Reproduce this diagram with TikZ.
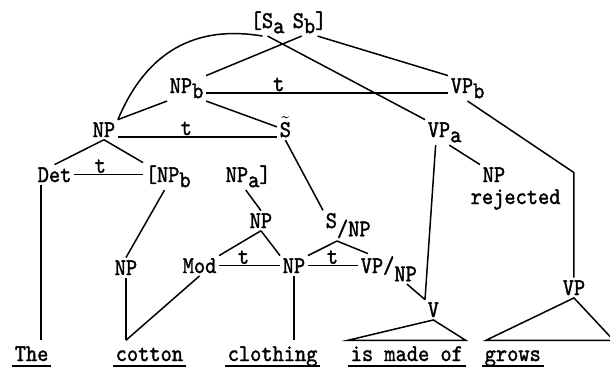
\documentclass[tikz,border=0pt]{standalone}
\usepackage{fontspec}
\usepackage{tikz}
\usetikzlibrary{positioning}

\newfontfamily\twfont{lmmono10-regular.otf}[FakeStretch=0.89, FakeBold=1.5]
\newcommand{\tw}{\fontsize{12}{14}\selectfont\twfont}
\newcommand{\subl}[1]{\raisebox{-0.5ex}{#1}}
\newcommand{\subll}[1]{\raisebox{-0.8ex}{#1}}

\tikzset{
  cat/.style={anchor=base west, inner sep=1pt, font=\tw},
  word/.style={cat, text height=7pt, text depth=1pt, inner ysep=3pt},
  tlab/.style={anchor=base, inner sep=0pt, yshift=1pt, font=\tw},
}

\begin{document}
\begin{tikzpicture}[x=0.5pt, y=-0.5pt, line width=0.75pt]
            \useasboundingbox (0,0) rectangle (610,371);
            % top
            \node[cat] (sa) at (248,28) {[S\subl{a}};
            \node[cat] (sb) at (290,28) {S\subl{b}]};
            % second and third rows
            \node[cat] (npb) at (167,93) {NP\subl{b}};
            \node[cat] (vpb) at (448,93) {VP\subl{b}};
            \node[cat] (np1) at (90,137) {NP};
            \node[cat] (stil) at (277,137) {$\tilde{\mbox{S}}$};
            \node[cat] (vpa) at (425,137) {VP\subl{a}};
            \node[cat] (det) at (35,182) {Det};
            \node[cat] (lnpb) at (143,182) {[NP\subl{b}};
            \node[cat] (npa) at (223,182) {NP\subl{a}]};
            \node[cat] (nprej) at (480,182) {NP};
            \node[cat, inner sep=0pt] (rej) at (470,204) {rejected};
            % lower rows
            \node[cat] (np2) at (247,228) {NP};
            \node[cat] (snp) at (323,228) {S\subll{/NP}};
            \node[cat] (np3) at (112,275) {NP};
            \node[cat] (mod) at (180,273) {Mod};
            \node[cat] (np4) at (280,273) {NP};
            \node[cat] (vpnp) at (358,273) {VP/\subll{NP}};
            \node[cat] (v) at (425,317) {V};
            \node[cat] (vp) at (560,295) {VP};
            % words
            \node[word] (wthe) at (12,361) {The};
            \node[word] (wcotton) at (113,361) {cotton};
            \node[word] (wclothing) at (225,361) {clothing};
            \node[word] (wmade) at (348,361) {is made of};
            \node[word] (wgrows) at (482,361) {grows};
            \foreach \w in {wthe,wcotton,wclothing,wmade,wgrows}
                \draw ([yshift=-2.5pt]\w.base west) -- ([yshift=-2.5pt]\w.base east);

            \coordinate (cot) at (np3.south |- wcotton.north);
            \coordinate (snpv) at ([xshift=7pt]snp.south west);
            \path (vp.north) ++(0,-105) coordinate (bend);

            % branches from the top
            \draw (np1.north east) .. controls (147,50) and (197,25) .. (sa.-110);
            \draw (sa.south) -- (vpa.north west);
            \draw (sb.-120) -- (npb.north east);
            \draw (sb.-60) -- (vpb.north west);
            \draw (vpb.south) -- (bend) -- (vp.north);
            \draw (npb.south west) -- (np1.north east);
            \draw (npb.south east) -- (stil.west);
            \draw (npb.base east) -- (vpb.base west) node[tlab,pos=0.3] {t};
            \draw (np1.base east) -- (stil.base west) node[tlab,pos=0.43] {t};
            \draw (np1.south) -- (det.north);
            \draw (np1.south) -- (lnpb.north west);
            \draw (det.east) -- (lnpb.west |- det.east) node[tlab,pos=0.38] {t};
            \draw ([xshift=3pt]det.south west) -- ([xshift=3pt]det.south west |- wthe.north);
            \draw (vpa.-125) -- (v.north west);
            \draw (vpa.-70) -- (nprej.north west);
            % noun phrase
            \draw (lnpb.-105) -- (np3.north);
            \draw (np3.south) -- (cot);
            \draw (mod.south) -- (cot);
            \draw (npa.-100) -- (np2.north);
            \draw (np2.south) -- (mod.north east);
            \draw (np2.south) -- (np4.north west);
            \draw (mod.east) -- (np4.west |- mod.east) node[tlab,pos=0.4] {t};
            \draw (np4.south) -- (np4.south |- wclothing.north);
            % relative clause
            \draw (stil.south) -- (snp.north west);
            \draw (np4.north east) -- (snpv);
            \draw (snpv) -- ([xshift=5pt]vpnp.north west);
            \draw (np4.east) -- (vpnp.west |- np4.east) node[tlab,pos=0.49] {t};
            \draw (vpnp.-40) -- (v.north west);
            % triangles
            \draw (v.south) -- (wmade.north west) -- (wmade.north east) -- cycle;
            \draw (vp.south) -- ([xshift=2pt]wgrows.north west) -- ([xshift=35pt]wgrows.north east) -- cycle;
\end{tikzpicture}
\end{document}
